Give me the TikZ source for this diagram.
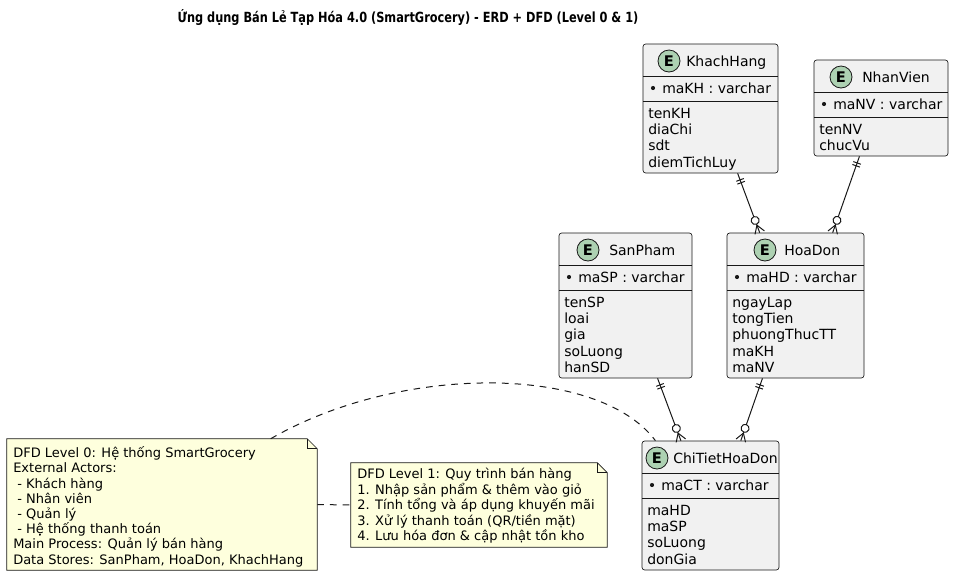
\documentclass[tikz,border=0pt]{standalone}
\usepackage{fontspec}
\setmainfont{DejaVu Sans}
\usetikzlibrary{calc,fit,positioning,decorations.markings}

\definecolor{boxfill}{HTML}{F1F1F1}
\definecolor{lineclr}{HTML}{181818}
\definecolor{notefill}{HTML}{FEFFDD}
\definecolor{circfill}{HTML}{ADD1B2}

\tikzset{
  ebox/.style={draw=lineclr, fill=boxfill, line width=0.5pt, rounded corners=2pt, inner sep=0pt},
  esep/.style={draw=lineclr, line width=0.75pt},
  ecirc/.style={circle, draw=lineclr, fill=circfill, line width=0.6pt, minimum size=16.5pt, inner sep=0pt,
    font=\fontsize{11}{12}\selectfont\bfseries},
  ename/.style={anchor=west, inner sep=0pt, font=\fontsize{10.5}{12}\selectfont, text height=7.7pt, text depth=0pt},
  eattr/.style={ename},
  keydot/.style={circle, fill=lineclr, inner sep=0pt, minimum size=3.1pt},
  notebox/.style={draw=lineclr, fill=notefill, line width=0.5pt},
  notetext/.style={anchor=west, inner sep=0pt, font=\fontsize{9.75}{11.4}\selectfont, text height=7.1pt, text depth=0pt},
  notelink/.style={draw=lineclr, line width=0.75pt, dash pattern=on 5pt off 4.5pt},
  erlink/.style={draw=lineclr, line width=0.75pt, postaction={decorate, decoration={markings,
      mark=at position 5.25pt with {\draw (0,-3pt) -- (0,3pt);},
      mark=at position 7.5pt with {\draw (0,-3pt) -- (0,3pt);},
      mark=at position 1 with {\draw (-6pt,0) -- (0,3.75pt) (-6pt,0) -- (0,-3.75pt);
        \draw[fill=white] (-9.75pt,0) circle (3pt);}}}}
}

\begin{document}
\begin{tikzpicture}[x=0.75pt, y=-0.75pt]
\useasboundingbox (0,0) rectangle (954,576);

% title
\node[font=\fontsize{10.5}{12}\selectfont\bfseries, xscale=0.81] (title) at (408,18)
  {Ứng dụng Bán Lẻ Tạp Hóa 4.0 (SmartGrocery) - ERD + DFD (Level 0 \& 1)};

% KhachHang
\node[ebox, fit={(643,44) (778,173)}] (kh) {};
\node[ecirc] (kh-e) at (669,61) {E};
\node[ename] (kh-n) at (686,61) {KhachHang};
\draw[esep] (643,76) -- (778,76);
\node[keydot] (kh-d) at (653,88) {};
\node[ename] (kh-k) at (662,88) {maKH : varchar};
\draw[esep] (643,101) -- (778,101);
\foreach \a [count=\i from 0] in {tenKH,diaChi,sdt,diemTichLuy}
  \node[eattr] (kh-a\i) at (648,{113+16.3*\i}) {\a};

% NhanVien
\node[ebox, fit={(814,60) (948,156)}] (nv) {};
\node[ecirc] (nv-e) at (841,77) {E};
\node[ename] (nv-n) at (862,77) {NhanVien};
\draw[esep] (814,92) -- (948,92);
\node[keydot] (nv-d) at (824,104) {};
\node[ename] (nv-k) at (833,104) {maNV : varchar};
\draw[esep] (814,117) -- (948,117);
\foreach \a [count=\i from 0] in {tenNV,chucVu}
  \node[eattr] (nv-a\i) at (819,{129+16.3*\i}) {\a};

% SanPham
\node[ebox, fit={(559,233) (692,378)}] (sp) {};
\node[ecirc] (sp-e) at (588,250) {E};
\node[ename] (sp-n) at (609,250) {SanPham};
\draw[esep] (559,265) -- (692,265);
\node[keydot] (sp-d) at (569,277) {};
\node[ename] (sp-k) at (578,277) {maSP : varchar};
\draw[esep] (559,290) -- (692,290);
\foreach \a [count=\i from 0] in {tenSP,loai,gia,soLuong,hanSD}
  \node[eattr] (sp-a\i) at (564,{302+16.3*\i}) {\a};

% HoaDon
\node[ebox, fit={(727,233) (864,378)}] (hd) {};
\node[ecirc] (hd-e) at (765,250) {E};
\node[ename] (hd-n) at (784,250) {HoaDon};
\draw[esep] (727,265) -- (864,265);
\node[keydot] (hd-d) at (737,277) {};
\node[ename] (hd-k) at (746,277) {maHD : varchar};
\draw[esep] (727,290) -- (864,290);
\foreach \a [count=\i from 0] in {ngayLap,tongTien,phuongThucTT,maKH,maNV}
  \node[eattr] (hd-a\i) at (732,{302+16.3*\i}) {\a};

% ChiTietHoaDon
\node[ebox, fit={(642,441) (779,570)}] (ct) {};
\node[ecirc] (ct-e) at (657,458) {E};
\node[ename] (ct-n) at (673,458) {ChiTietHoaDon};
\draw[esep] (642,473) -- (779,473);
\node[keydot] (ct-d) at (652,485) {};
\node[ename] (ct-k) at (661,485) {maCT : varchar};
\draw[esep] (642,498) -- (779,498);
\foreach \a [count=\i from 0] in {maHD,maSP,soLuong,donGia}
  \node[eattr] (ct-a\i) at (647,{510+16.3*\i}) {\a};

% relations
\draw[erlink] ($(kh.south west)!.70!(kh.south east)$) -- ($(hd.north west)!.24!(hd.north east)$);
\draw[erlink] ($(nv.south west)!.34!(nv.south east)$) -- ($(hd.north west)!.77!(hd.north east)$);
\draw[erlink] ($(sp.south west)!.74!(sp.south east)$) -- ($(ct.north west)!.285!(ct.north east)$);
\draw[erlink] ($(hd.south west)!.26!(hd.south east)$) -- ($(ct.north west)!.72!(ct.north east)$);

% DFD Level 0 note
\node[fit={(7,439) (317,570)}, inner sep=0pt] (dfd0) {};
\filldraw[notebox] (dfd0.north west) -- ([xshift=-7.5pt]dfd0.north east) -- ([yshift=-7.5pt]dfd0.north east)
  -- (dfd0.south east) -- (dfd0.south west) -- cycle;
\draw[notebox, fill=none] ([xshift=-7.5pt]dfd0.north east) -- ([xshift=-7.5pt,yshift=-7.5pt]dfd0.north east)
  -- ([yshift=-7.5pt]dfd0.north east);
\foreach \t [count=\i from 0] in {DFD Level 0: Hệ thống SmartGrocery, External Actors:, {\ - Khách hàng},
    {\ - Nhân viên}, {\ - Quản lý}, {\ - Hệ thống thanh toán}, Main Process: Quản lý bán hàng,
    {Data Stores: SanPham, HoaDon, KhachHang}}
  \node[notetext] (dfd0-\i) at (13,{453+15.2*\i}) {\t};

% DFD Level 1 note
\node[fit={(351,463) (607,547)}, inner sep=0pt] (dfd1) {};
\filldraw[notebox] (dfd1.north west) -- ([xshift=-7.5pt]dfd1.north east) -- ([yshift=-7.5pt]dfd1.north east)
  -- (dfd1.south east) -- (dfd1.south west) -- cycle;
\draw[notebox, fill=none] ([xshift=-7.5pt]dfd1.north east) -- ([xshift=-7.5pt,yshift=-7.5pt]dfd1.north east)
  -- ([yshift=-7.5pt]dfd1.north east);
\foreach \t [count=\i from 0] in {DFD Level 1: Quy trình bán hàng, 1. Nhập sản phẩm \& thêm vào giỏ,
    2. Tính tổng và áp dụng khuyến mãi, 3. Xử lý thanh toán (QR/tiền mặt), 4. Lưu hóa đơn \& cập nhật tồn kho}
  \node[notetext] (dfd1-\i) at (357,{474+15.5*\i}) {\t};

% note links
\draw[notelink] ($(dfd0.north west)!.85!(dfd0.north east)$) .. controls (400,364) and (598,364)
  .. ($(ct.north west)!.1!(ct.north east)$);
\draw[notelink] (dfd0.east) -- (dfd1.west);
\end{tikzpicture}
\end{document}
